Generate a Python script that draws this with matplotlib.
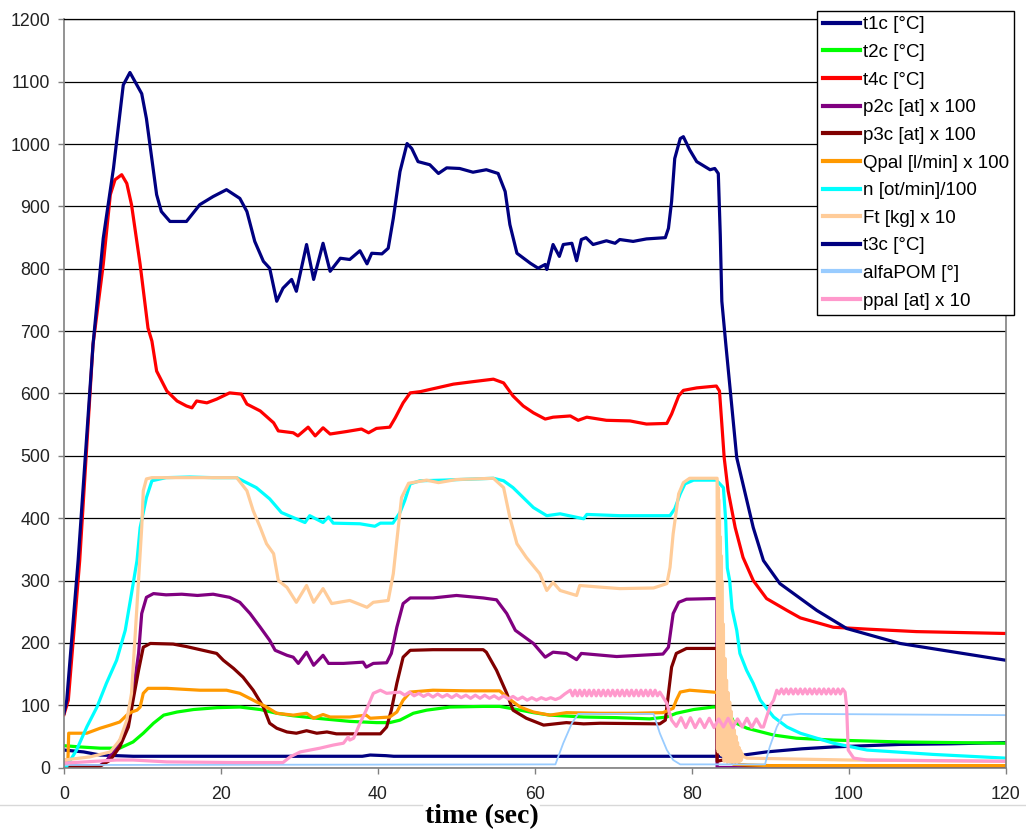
import matplotlib
matplotlib.use("Agg")
import matplotlib.pyplot as plt
from matplotlib.lines import Line2D

# ---------------- data (time in s, values as plotted) ----------------
t1c_t = [0, 2.5, 4.6, 8.8, 20, 38, 39, 41, 42, 60, 80, 84, 86, 89.5, 94, 98, 106.5, 113, 120]
t1c_v = [28, 25, 20, 18, 18, 18, 20, 19, 18, 18, 18, 18, 19, 25, 30, 33, 37, 38, 40]

t2c_t = [0, 2, 4.6, 7.1, 8.8, 10.1, 11.4, 12.7, 14.4, 16.5, 19.5, 22.4, 25.0, 27.1, 29.2, 32.2, 36.4,
         39.8, 41.5, 42.8, 44.5, 46.2, 49.2, 53.4, 55.5, 57.7, 59.8, 61.9, 66.2, 70.4, 74.6, 76.8, 78.0,
         80.2, 82.7, 84.4, 85.3, 87.0, 90.4, 93.3, 98.0, 106.5, 120]
t2c_v = [35, 33, 31, 31, 41, 55, 71, 84, 89, 93, 96, 97, 93, 87, 83, 79, 74,
         72, 72, 76, 87, 92, 97, 98, 98, 93, 88, 84, 81, 80, 78, 81, 87,
         93, 97, 97, 73, 63, 52, 47, 44, 41, 39]

t4c_t = [0, 0.55, 2.0, 3.7, 5.0, 5.9, 6.5, 7.35, 8.0, 8.6, 9.7, 10.7, 11.2, 11.8, 13.1, 14.4, 15.6, 16.3,
         16.9, 18.2, 19.45, 21.1, 22.6, 23.3, 25.0, 26.7, 27.3, 29.2, 29.8, 31.1, 32.0, 33.0, 33.9, 36.0,
         37.9, 38.8, 39.8, 41.5, 42.2, 43.2, 44.1, 45.4, 47.5, 49.6, 52.1, 54.7, 56.0, 57.2, 58.5, 59.8,
         61.3, 62.3, 64.5, 65.5, 66.6, 69.1, 72.1, 74.2, 76.8, 77.4, 78.3, 78.9, 80.6, 83.1, 83.5, 83.8,
         84.1, 84.6, 85.5, 86.5, 87.8, 89.5, 92.1, 93.8, 98.0, 102.3, 108.6, 120]
t4c_v = [85, 108, 332, 679, 807, 919, 943, 951, 937, 903, 807, 705, 684, 636, 604, 588, 580, 577,
         588, 585, 591, 601, 599, 583, 572, 553, 540, 537, 532, 546, 532, 545, 535, 539,
         543, 537, 544, 546, 561, 585, 601, 603, 609, 615, 619, 623, 617, 596, 580, 569,
         559, 562, 564, 557, 562, 557, 556, 551, 552, 567, 596, 605, 609, 612, 604, 551,
         497, 444, 385, 337, 300, 271, 252, 240, 225, 222, 218, 215]

p2c_t = [0, 4.6, 5.5, 6.7, 8.0, 8.8, 9.5, 9.9, 10.5, 11.4, 13, 15, 17, 19, 21.1, 22.4, 23.7, 25.0,
         26.2, 26.9, 28.4, 29.2, 29.85, 30.9, 31.8, 33.0, 33.7, 35.6, 38.1, 38.5, 39.4, 41.1, 41.7,
         42.4, 43.2, 44.1, 47.0, 50.0, 53.4, 55.1, 56.4, 57.5, 59.8, 61.3, 62.3, 64.0, 65.3, 65.9,
         70.4, 76.3, 77.0, 77.6, 78.3, 79.3, 82.7, 83.15, 83.2, 120]
p2c_v = [3, 3, 12, 33, 65, 119, 183, 247, 273, 279, 277, 278, 276, 278, 273, 265, 247, 225,
         204, 188, 180, 177, 167, 185, 164, 180, 167, 167, 169, 161, 167, 168, 183,
         225, 263, 272, 272, 276, 272, 269, 247, 220, 199, 177, 185, 183, 173, 183,
         178, 182, 193, 247, 265, 270, 271, 271, 0, 0]

p3c_t = [0, 3.4, 4.6, 5.9, 7.1, 8.2, 8.8, 9.5, 10.1, 11.0, 13.9, 15.6, 17.7, 19.45, 20.3, 21.6, 22.8,
         24.1, 25.4, 26.2, 27.1, 28.4, 29.6, 30.9, 32.2, 33.5, 34.7, 38.5, 40.3, 41.1, 41.7, 42.4,
         43.2, 44.1, 47.0, 53.4, 53.8, 55.1, 56.4, 57.2, 58.9, 61.1, 64.0, 66.2, 68.3, 75.9, 76.6,
         77.0, 77.4, 78.0, 79.3, 82.7, 83.15, 83.2, 85, 86, 87, 93, 120]
p3c_v = [2, 1, 2, 12, 33, 65, 108, 156, 193, 199, 198, 194, 188, 183, 172, 159, 145,
         124, 97, 71, 63, 57, 55, 59, 55, 57, 54, 54, 54, 65, 92, 135,
         177, 188, 189, 189, 185, 156, 119, 92, 79, 68, 72, 70, 71, 70, 76,
         119, 161, 183, 191, 191, 191, 10, 15, 5, 3, 2, 2]

qpal_t = [0, 0.5, 0.6, 2.9, 4.6, 5.9, 7.1, 8.0, 8.6, 9.3, 9.7, 10.1, 10.7, 13.1, 17.3, 20.7, 22.4,
          24.1, 25.8, 27.1, 29.2, 30.9, 31.8, 33.0, 33.9, 36.4, 38.5, 39.0, 41.5, 42.4, 43.2, 44.1,
          47.0, 51.3, 55.5, 56.4, 58.1, 59.8, 61.9, 64.0, 68.3, 72.5, 76.3, 77.6, 78.0, 78.5, 79.7,
          82.7, 84.4, 84.6, 85.3, 90, 120]
qpal_v = [12, 12, 55, 55, 63, 68, 73, 84, 89, 92, 97, 119, 127, 127, 124, 124, 119,
          108, 97, 87, 84, 87, 79, 85, 81, 81, 84, 79, 81, 89, 108, 121,
          124, 123, 123, 113, 97, 89, 84, 88, 87, 87, 88, 95, 108, 121, 124,
          121, 119, 12, 5, 3, 3]

n_t = [0, 0.3, 1.6, 2.9, 4.2, 5.4, 6.7, 7.8, 8.6, 9.3, 9.7, 10.5, 11.2, 13, 16, 19, 22.0, 24.5, 26.2,
       27.7, 29.2, 30.7, 31.3, 33.0, 33.7, 34.3, 37.7, 39.6, 40.3, 41.9, 42.8, 43.4, 44.1, 45.35,
       48.3, 54.7, 56.0, 57.2, 58.5, 59.8, 61.5, 63.2, 66.2, 66.6, 70.8, 77.2, 77.8, 78.5, 79.1,
       80.2, 83.1, 84.0, 84.3, 84.5, 84.8, 85.1, 85.7, 86.1, 86.95, 87.8, 88.7, 90.4, 92.1, 93.8,
       98, 102.3, 110.7, 120]
n_v = [2, 1, 28, 65, 97, 135, 172, 220, 279, 332, 385, 433, 460, 465, 466, 465, 465, 449, 431,
       409, 401, 393, 404, 393, 402, 392, 391, 387, 392, 392, 409, 428, 455, 460,
       461, 464, 460, 449, 433, 417, 404, 407, 399, 406, 404, 404, 415, 439, 455,
       461, 461, 449, 395, 320, 300, 255, 220, 183, 156, 135, 108, 81, 65, 55,
       39, 28, 21, 15]

ft_t = [0, 3.3, 5.9, 7.1, 8.0, 8.6, 9.0, 9.3, 9.9, 10.1, 10.5, 11.2, 16, 22.0, 23.3, 24.1, 25.0, 25.8,
        26.7, 27.3, 28.4, 29.6, 30.9, 31.8, 33.0, 34.1, 36.4, 38.6, 39.4, 41.3, 41.95, 42.4, 43.0,
        43.9, 46.2, 47.7, 50, 54.7, 56.0, 56.8, 57.7, 58.9, 60.6, 61.5, 62.3, 63.2, 65.3, 65.7,
        68.7, 70.8, 75.1, 76.8, 77.2, 77.6, 78.3, 78.9, 79.7, 83.1,
        83.2, 83.25, 83.3, 83.35, 83.4, 83.45, 83.5, 83.55, 83.6, 83.65, 83.7, 83.75, 83.8,
        83.9, 84.0, 84.1, 84.2, 84.3, 84.4, 84.5, 84.6, 84.7,
        84.8, 84.9, 85.0, 85.1, 85.2, 85.3, 85.4, 85.5, 85.6, 85.7, 85.8, 85.9, 86.0, 86.1, 86.2,
        86.3, 86.4, 86.5, 87.0, 100, 120]
ft_v = [12, 17, 25, 44, 76, 119, 199, 260, 385, 444, 463, 465, 465, 465, 444, 412, 385, 359,
        343, 300, 289, 265, 292, 265, 287, 263, 268, 257, 265, 268, 311, 364, 433,
        456, 461, 457, 462, 464, 449, 401, 359, 337, 311, 284, 297, 284, 276, 292,
        289, 287, 288, 295, 321, 375, 439, 457, 464, 464,
        464, 30, 450, 25, 430, 30, 400, 25, 370, 28, 340, 20, 300,
        20, 230, 10, 175, 15, 140, 8, 120, 10,
        105, 8, 90, 10, 75, 8, 60, 10, 50, 8, 40, 10, 32, 10, 27,
        12, 22, 18, 15, 12, 10]

t3c_t = [0, 0.35, 1.8, 3.7, 5.0, 6.3, 7.55, 8.4, 9.9, 10.5, 11.8, 12.4, 13.5, 15.6, 17.3, 19.0, 20.7,
         22.4, 23.3, 24.3, 25.4, 26.2, 27.1, 27.9, 29.0, 29.6, 30.9, 31.8, 33.0, 33.9, 35.2, 36.4,
         37.7, 38.6, 39.2, 40.5, 41.3, 41.95, 42.8, 43.7, 44.3, 45.1, 46.6, 47.7, 48.75, 50.4, 52.1,
         53.8, 55.3, 56.2, 56.8, 57.7, 59.4, 60.4, 61.3, 61.5, 62.3, 63.1, 63.6, 64.7, 65.3, 65.9,
         66.5, 67.4, 69.1, 70.2, 70.8, 72.5, 74.2, 76.6, 77.0, 77.4, 77.8, 78.5, 78.9, 79.7, 80.6,
         82.3, 82.9, 83.35, 83.6, 83.8, 84.3, 85.7, 87.8, 89.1, 91.2, 95.9, 99.7, 106.5, 115, 120]
t3c_v = [87, 108, 332, 679, 849, 961, 1095, 1115, 1081, 1041, 919, 892, 876, 876, 903, 916, 927,
         913, 892, 844, 812, 801, 748, 769, 783, 764, 839, 783, 841, 796, 817, 815,
         829, 808, 825, 824, 833, 881, 956, 1001, 993, 972, 967, 953, 962, 961, 955,
         959, 953, 924, 871, 825, 809, 801, 807, 799, 839, 820, 839, 841, 813, 847,
         850, 839, 845, 841, 847, 844, 848, 850, 865, 908, 977, 1009, 1012, 991, 972,
         959, 961, 953, 855, 748, 680, 497, 385, 332, 295, 252, 223, 199, 182, 172]

alfa_t = [0, 62.6, 63.6, 64.7, 65.5, 75.1, 75.9, 76.8, 77.6, 78.5, 89.3, 89.9, 90.8, 91.6, 93.8, 120]
alfa_v = [4, 5, 39, 71, 86, 86, 55, 28, 12, 5, 5, 33, 65, 84, 86, 84]

ppal_t = [0, 6.7, 8.8, 13.1, 21.6, 27.9, 28.8, 30.1, 32.6, 34.3, 35.6, 36.2, 36.4, 36.9, 37.7, 38.5,
          39.4, 40.3, 41.1, 42.8,
          43.4, 44.0, 44.6, 45.2, 45.8, 46.4, 47.0, 47.6, 48.2, 48.8, 49.4, 50.0, 50.6, 51.2, 51.8,
          52.4, 53.0, 53.6, 54.2, 54.8, 55.4, 56.0, 56.6, 57.2, 57.8, 58.4, 59.0, 59.6, 60.2, 60.8,
          61.4, 62.0, 62.6, 63.2, 63.8, 64.5,
          64.8, 65.1, 65.4, 65.7, 66.0, 66.3, 66.6, 66.9, 67.2, 67.5, 67.8, 68.1, 68.4, 68.7, 69.0,
          69.3, 69.6, 69.9, 70.2, 70.5, 70.8, 71.1, 71.4, 71.7, 72.0, 72.3, 72.6, 72.9, 73.2, 73.5,
          73.8, 74.1, 74.4, 74.7, 75.0, 75.3, 75.6, 75.9, 76.8, 77.4,
          78.0, 78.6, 79.2, 79.8, 80.4, 81.0, 81.6, 82.2, 82.8, 83.4, 84.0, 84.6, 85.2, 85.8, 86.4,
          87.0, 87.6, 88.2, 88.8, 89.1, 89.5, 90.0, 90.4, 90.8,
          91.1, 91.4, 91.7, 92.0, 92.3, 92.6, 92.9, 93.2, 93.5, 93.8, 94.1, 94.4, 94.7, 95.0, 95.3,
          95.6, 95.9, 96.2, 96.5, 96.8, 97.1, 97.4, 97.7, 98.0, 98.3, 98.6, 98.9, 99.2,
          99.5, 99.7, 99.9, 100.6, 102.3, 120]
ppal_v = [7, 12, 12, 9, 8, 8, 17, 25, 31, 36, 39, 49, 44, 47, 71, 92,
          119, 124, 119, 121,
          116, 121, 115, 119, 114, 118, 113, 118, 113, 117, 112, 117, 112, 116, 111,
          116, 111, 116, 111, 115, 110, 115, 110, 114, 109, 113, 108, 112, 108, 112,
          109, 112, 109, 112, 118, 124,
          115, 124, 115, 124, 115, 124, 115, 124, 115, 124, 115, 124, 115, 124, 115,
          124, 115, 124, 115, 124, 115, 124, 115, 124, 115, 124, 115, 124, 115, 124,
          115, 124, 115, 124, 115, 124, 115, 121, 103, 76,
          66, 80, 64, 80, 64, 78, 64, 79, 64, 78, 65, 79, 64, 78, 65,
          79, 64, 78, 65, 65, 81, 100, 108, 124,
          118, 126, 118, 126, 118, 126, 118, 126, 118, 126, 118, 126, 118, 126, 118,
          126, 118, 126, 118, 126, 118, 126, 118, 126, 118, 126, 118, 126,
          121, 97, 28, 15, 12, 10]

labels = ["t1c [°C]", "t2c [°C]", "t4c [°C]", "p2c [at] x 100", "p3c [at] x 100",
          "Qpal [l/min] x 100", "n [ot/min]/100", "Ft [kg] x 10", "t3c [°C]",
          "alfaPOM [°]", "ppal [at] x 10"]
colors = ["#000080", "#00FF00", "#FF0000", "#800080", "#800000", "#FF9900",
          "#00FFFF", "#FFCC99", "#000080", "#99CCFF", "#FF99CC"]
series = [(t1c_t, t1c_v), (t2c_t, t2c_v), (t4c_t, t4c_v), (p2c_t, p2c_v), (p3c_t, p3c_v),
          (qpal_t, qpal_v), (n_t, n_v), (ft_t, ft_v), (t3c_t, t3c_v), (alfa_t, alfa_v),
          (ppal_t, ppal_v)]
for lab, (tt, vv) in zip(labels, series):
    assert len(tt) == len(vv), f"{lab}: {len(tt)} vs {len(vv)}"

x_ticks = [0, 20, 40, 60, 80, 100, 120]
y_ticks = list(range(0, 1201, 100))

# ---------------- figure ----------------
plt.rcParams['font.family'] = ['Liberation Sans', 'DejaVu Sans']
W, H = 1026, 830
fig = plt.figure(figsize=(W / 100, H / 100), dpi=100)
fig.patch.set_facecolor('white')
x0, x1, y0, y1 = 64, 1006, 767.5, 19.5
ax = fig.add_axes([x0 / W, 1 - y0 / H, (x1 - x0) / W, (y0 - y1) / H])

for lab, col, (tt, vv) in zip(labels, colors, series):
    lw = 1.3 if lab.startswith("alfa") else 2.3
    ax.plot(tt, vv, color=col, lw=lw, label=lab, solid_joinstyle='round')

ax.set_xlim(0, 120)
ax.set_ylim(0, 1200)
ax.set_xticks(x_ticks)
ax.set_yticks(y_ticks)
ax.yaxis.grid(True, color='#000000', lw=0.9)
ax.set_axisbelow(True)
for s in ax.spines.values():
    s.set_color('#808080')
    s.set_linewidth(1.2)
ax.spines['top'].set_color('#000000')
ax.spines['top'].set_linewidth(0.9)
ax.tick_params(axis='y', direction='out', length=4, width=1, color='#808080', pad=6,
               labelsize=12.8, labelcolor='#222222')
ax.tick_params(axis='x', direction='out', length=4, width=1, color='#808080', pad=9,
               labelsize=12.8, labelcolor='#222222')

leg = ax.legend(loc='upper right', bbox_to_anchor=(1014 / W, 1 - 11 / H),
                bbox_transform=fig.transFigure, fontsize=13.5, frameon=True, fancybox=False,
                edgecolor='#000000', framealpha=1, borderpad=0.28, labelspacing=0.56,
                handlelength=2.0, handletextpad=0.14, borderaxespad=0)
leg.get_frame().set_linewidth(1.0)
for h in leg.get_lines():
    h.set_linewidth(3)

fig.text(482 / W, 1 - 817 / H, 'time (sec)', ha='center', va='center', fontsize=20,
         fontweight='bold', family='Liberation Serif')
fig.add_artist(Line2D([0, 422 / W], [1 - 805 / H] * 2, color='#d8d8d8', lw=1))
fig.add_artist(Line2D([540 / W, 1], [1 - 805 / H] * 2, color='#d8d8d8', lw=1))

fig.savefig('out.png', dpi=100, facecolor='white')
